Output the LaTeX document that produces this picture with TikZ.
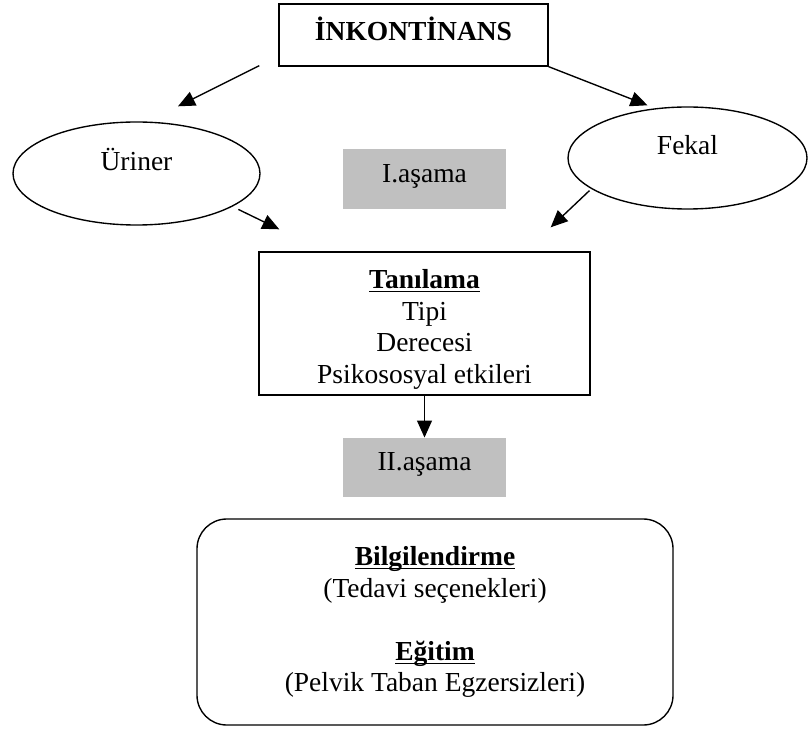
\documentclass[tikz,border=0pt]{standalone}
\usepackage{fontspec}
\setmainfont{Liberation Serif}
\usetikzlibrary{shapes.geometric,arrows.meta,calc}
\definecolor{stagegray}{RGB}{192,192,192}
\newcommand\pxu{0.4364pt}
\newcommand\ulword[1]{\underline{\smash{#1}}\vphantom{#1}}

\begin{document}
\begin{tikzpicture}[x=0.4364pt, y=-0.4364pt,
            every node/.style={font=\fontsize{12}{13.75}\selectfont, inner sep=0pt, align=center},
            framebox/.style={draw, line width=0.6pt},
            oval/.style={draw, ellipse, line width=0.6pt, text height=9pt, text depth=12pt},
            stagebox/.style={fill=stagegray, text height=8pt, text depth=5pt},
            arrow/.style={line width=0.6pt, -{Triangle[length=7.4pt,width=6.5pt]}}]
            \useasboundingbox (0,0) rectangle (808,730);
            \node [framebox, minimum width=269*\pxu, minimum height=62*\pxu, text height=8pt, text depth=3.6pt] (top) at (413.5,35) {\textbf{İNKONTİNANS}};
            \node [oval, minimum width=247*\pxu, minimum height=103*\pxu] (uriner) at (136.5,173.5) {Üriner};
            \node [oval, minimum width=239*\pxu, minimum height=102*\pxu] (fekal) at (687.5,158) {Fekal};
            \node [stagebox, minimum width=163*\pxu, minimum height=60*\pxu] (asama1) at (424.5,179) {I.aşama};
            \node [framebox, minimum width=331*\pxu, minimum height=143*\pxu] (tanilama) at (424.5,323.5) {\rule{0pt}{13.5pt}\ulword{\textbf{Tanılama}}\\Tipi\\Derecesi\\Psikososyal etkileri};
            \node [stagebox, minimum width=163*\pxu, minimum height=59*\pxu] (asama2) at (424.5,467.5) {II.aşama};
            \node [framebox, rounded corners=13pt, minimum width=476*\pxu, minimum height=206*\pxu] (egitim) at (435,622) {\ulword{\textbf{Bilgilendirme}}\\(Tedavi seçenekleri)\\[13.75pt]\ulword{\textbf{Eğitim}}\\(Pelvik Taban Egzersizleri)};
            \draw [arrow] ($(top.south west)+(-19,-1)$) -- ($(uriner.north)+(41.5,-15)$);
            \draw [arrow] (top.south east) -- ($(fekal.north)+(-40,-1)$);
            \draw [arrow] ($(uriner.south east)+(14,-1)$) -- ($(tanilama.north west)+(21,-22)$);
            \draw [arrow] ($(fekal.south west)+(-13,-4)$) -- ($(tanilama.north east)+(-40,-24)$);
            \draw [arrow] (tanilama) -- (asama2);
        \end{tikzpicture}
\end{document}
